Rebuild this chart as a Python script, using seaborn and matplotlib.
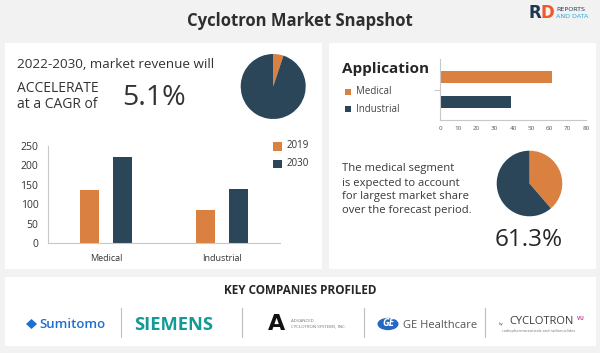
import matplotlib
matplotlib.use("Agg")
import matplotlib.pyplot as plt
from matplotlib.patches import Rectangle, Circle, Polygon
from matplotlib.ticker import FixedLocator
import seaborn as sns
import pandas as pd

# ---------------- data ----------------
segments = ["Medical", "Industrial"]
years = ["2019", "2030"]
revenue_2019 = [135, 85]
revenue_2030 = [220, 140]
cagr_share = [5.1, 94.9]
app_labels = ["Medical", "Industrial"]
app_shares = [61.3, 38.7]
pie_share = [38.7, 61.3]
hbar_ticks = [0, 10, 20, 30, 40, 50, 60, 70, 80]
bar_yticks = [0, 50, 100, 150, 200, 250]

ORANGE = "#DA8142"
NAVY = "#2B4659"
TXT = "#333333"
GRID = "#C8C8C8"

sns.set_theme(style="white")
plt.rcParams['font.family'] = ['Open Sans', 'DejaVu Sans']

W, H = 600, 353
fig = plt.figure(figsize=(W / 100, H / 100), dpi=100)
fig.patch.set_facecolor("#F2F2F2")


def fx(x):
    return x / W


def fy(y):
    return 1 - y / H


def panel(x0, y0, x1, y1):
    fig.add_artist(Rectangle((fx(x0), fy(y1)), (x1 - x0) / W, (y1 - y0) / H,
                             transform=fig.transFigure, facecolor="white",
                             edgecolor="none", zorder=0))


def axes_px(x0, y0, x1, y1):
    return fig.add_axes([fx(x0), fy(y1), (x1 - x0) / W, (y1 - y0) / H])


def text(x, y, s, **kw):
    kw.setdefault("color", TXT)
    kw.setdefault("va", "center")
    fig.text(fx(x), fy(y), s, **kw)


# ---------------- panels ----------------
panel(5, 43, 322, 269)
panel(329, 43, 596, 269)
panel(5, 277, 596, 346)

# ---------------- title & logo ----------------
text(300, 21, "Cyclotron Market Snapshot", ha="center", fontsize=12,
     fontweight="bold", color="#2E2E2E")
text(528, 13, "R", fontsize=12, fontweight="heavy", color="#1F3550",
     family="DejaVu Sans")
text(540, 13, "D", fontsize=12, fontweight="heavy", color="#F0582A",
     family="DejaVu Sans")
text(556, 9.5, "REPORTS", fontsize=4.6, color="#2A3E55", family="DejaVu Sans")
text(556, 16.5, "AND DATA", fontsize=4.6, color="#2FA8E0", family="DejaVu Sans")

# ---------------- left panel text ----------------
text(17, 65, "2022-2030, market revenue will", fontsize=9.7)
text(17, 88, "ACCELERATE", fontsize=10, fontweight="medium")
text(17, 105, "at a CAGR of", fontsize=10, fontweight="medium")
text(122, 98, "5.1%", fontsize=20.5)

# ---------------- pie 1 ----------------
r1 = 32.5
axp1 = axes_px(273.2 - r1, 86.5 - r1, 273.2 + r1, 86.5 + r1)
axp1.pie(cagr_share, colors=[ORANGE, NAVY], startangle=90, counterclock=False,
         radius=1, wedgeprops=dict(linewidth=0))
axp1.set_xlim(-1, 1)
axp1.set_ylim(-1, 1)
axp1.set_aspect("equal")
axp1.axis("off")

# ---------------- grouped bar chart ----------------
df = pd.DataFrame({
    "segment": segments * 2,
    "year": [years[0]] * 2 + [years[1]] * 2,
    "value": revenue_2019 + revenue_2030,
})
axb = axes_px(48, 145.7, 280, 243)
sns.barplot(data=df, x="segment", y="value", hue="year",
            palette=[ORANGE, NAVY], saturation=1, width=0.57, gap=0.4,
            linewidth=0, legend=False, ax=axb)
axb.set_facecolor("none")
axb.set_ylim(0, 250)
axb.set_xlim(-0.5, 1.5)
axb.set_yticks(bar_yticks)
axb.set_yticklabels([str(v) for v in bar_yticks], fontsize=7.5, color=TXT)
axb.set_xlabel("")
axb.set_ylabel("")
axb.tick_params(axis="x", length=0, labelsize=6.5, labelcolor=TXT, pad=8)
axb.tick_params(axis="y", length=4, width=0.8, color=GRID, pad=3)
axb.xaxis.set_minor_locator(FixedLocator([0.5, 1.5]))
axb.tick_params(axis="x", which="minor", length=3, width=0.8, color=GRID)
for s in ["top", "right"]:
    axb.spines[s].set_visible(False)
for s in ["left", "bottom"]:
    axb.spines[s].set_color(GRID)
    axb.spines[s].set_linewidth(0.8)

# legend
for i, (lab, col) in enumerate(zip(years, [ORANGE, NAVY])):
    y = 146 + 17.5 * i
    fig.add_artist(Rectangle((fx(273), fy(y + 4.5)), 8.5 / W, 8.5 / H,
                             transform=fig.transFigure, facecolor=col,
                             edgecolor="none"))
    text(287, y, lab, fontsize=7)

# ---------------- right panel ----------------
text(342, 69, "Application", fontsize=11, fontweight="bold", color="#262626")
for i, (lab, col) in enumerate(zip(app_labels, [ORANGE, NAVY])):
    y = 92 + 17 * i
    fig.add_artist(Rectangle((fx(344.5), fy(y + 3.3)), 6.5 / W, 6.5 / H,
                             transform=fig.transFigure, facecolor=col,
                             edgecolor="none"))
    text(356, y, lab, fontsize=7, color="#444444")

dfa = pd.DataFrame({"app": app_labels, "share": app_shares})
axh = axes_px(440, 59, 586, 120)
sns.barplot(data=dfa, y="app", x="share", hue="app", palette=[ORANGE, NAVY],
            saturation=1, orient="h", width=0.5, linewidth=0, legend=False,
            ax=axh)
axh.set_facecolor("none")
axh.set_xlim(0, 80)
axh.set_ylim(1.76, -0.76)
axh.set_xticks(hbar_ticks)
axh.set_xticklabels([str(v) for v in hbar_ticks], fontsize=4.5, color="#555555")
axh.set_yticks([])
axh.yaxis.set_minor_locator(FixedLocator([0.5]))
axh.tick_params(axis="y", which="minor", length=4, width=0.7, color=GRID, left=True)
axh.tick_params(axis="x", length=3, width=0.7, color=GRID, pad=1.5)
axh.set_xlabel("")
axh.set_ylabel("")
for s in ["top", "right"]:
    axh.spines[s].set_visible(False)
for s in ["left", "bottom"]:
    axh.spines[s].set_color(GRID)
    axh.spines[s].set_linewidth(0.8)

for i, line in enumerate(["The medical segment", "is expected to account",
                          "for largest market share", "over the forecast period."]):
    text(341.5, 169 + 14 * i, line, fontsize=8.1, color="#3A3A3A")

r2 = 32.8
axp2 = axes_px(529.5 - r2, 183.5 - r2, 529.5 + r2, 183.5 + r2)
axp2.pie(pie_share, colors=[ORANGE, NAVY], startangle=90, counterclock=False,
         radius=1, wedgeprops=dict(linewidth=0))
axp2.set_xlim(-1, 1)
axp2.set_ylim(-1, 1)
axp2.set_aspect("equal")
axp2.axis("off")
text(529, 240, "61.3%", ha="center", fontsize=17.5, color="#262626")

# ---------------- companies ----------------
text(300, 291, "KEY COMPANIES PROFILED", ha="center", fontsize=8.5,
     fontweight="bold", color="#262626")
for x in [121, 242, 364, 485]:
    fig.add_artist(plt.Line2D([fx(x), fx(x)], [fy(308), fy(337)],
                              transform=fig.transFigure, color="#BDBDBD",
                              linewidth=0.8))

# Sumitomo
fig.add_artist(Polygon([(fx(26), fy(324)), (fx(31.5), fy(319)), (fx(37), fy(324)),
                        (fx(31.5), fy(329))], closed=True,
                       transform=fig.transFigure, facecolor="#1D6FD1",
                       edgecolor="none"))
text(39, 324, "Sumitomo", fontsize=9.5, color="#1D6FD1", fontweight="semibold")
# Siemens
text(134, 324.5, "SIEMENS", fontsize=13.2, fontweight="bold", color="#139A94")
# Advanced Cyclotron Systems
text(268, 324, "A", fontsize=16, fontweight="bold", color="#111111",
     family="DejaVu Sans")
text(291, 321.5, "ADVANCED", fontsize=3.2, color="#777777")
text(291, 326.5, "CYCLOTRON SYSTEMS, INC.", fontsize=3.2, color="#777777")
# GE Healthcare
fig.add_artist(Circle((fx(388), fy(324)), 10.5 / W, transform=fig.transFigure,
                      facecolor="#2568C4", edgecolor="none"))
text(388, 324, "GE", ha="center", fontsize=7, fontstyle="italic",
     fontweight="bold", color="white")
text(403, 325, "GE Healthcare", fontsize=8, color="#555555")
# Cyclotron VU
text(499, 324, "by", fontsize=3, color="#555555")
text(509, 322, "CYCLOTRON", fontsize=8, color="#3C3C3C")
text(577, 318.5, "VU", fontsize=3.5, fontweight="bold", color="#C2388F")
text(502, 331, "radiopharmaceuticals and radionuclides", fontsize=2.8,
     color="#777777")

fig.savefig("out.png", dpi=100, facecolor=fig.get_facecolor())
